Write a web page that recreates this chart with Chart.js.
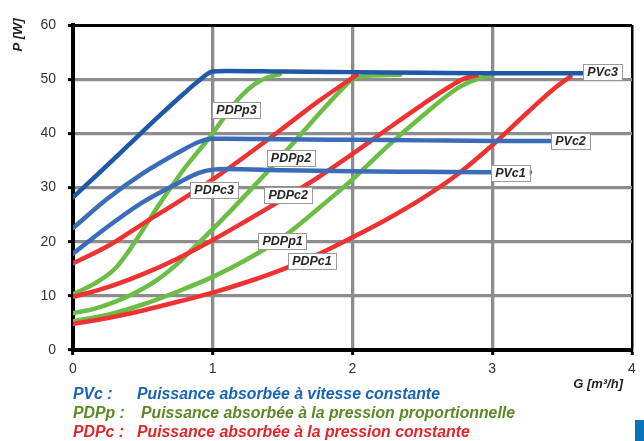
<!DOCTYPE html>
<html>
<head>
<meta charset="utf-8">
<script src="https://cdn.jsdelivr.net/npm/chart.js@4.4.1/dist/chart.umd.min.js"></script>
<style>
  body { margin: 0; background: #fff; }
  #wrap { position: relative; width: 644px; height: 441px; overflow: hidden; }
  #chart { position: absolute; left: 0; top: 0; }
  .legend { position: absolute; left: 73px; top: 384px; font: italic bold 15.8px "Liberation Sans", Arial, sans-serif; line-height: 19px; white-space: nowrap; }
  .legend div { position: relative; height: 19px; }
  .legend span.desc { position: absolute; left: 64px; }
  .corner { position: absolute; left: 635px; top: 420px; width: 9px; height: 21px; background: #0b73b7; }
</style>
</head>
<body>
<div id="wrap">
  <canvas id="chart" width="644" height="441"></canvas>
  <div class="legend">
    <div style="color:#1763b6">PVc :<span class="desc">Puissance absorbée à vitesse constante</span></div>
    <div style="color:#5b8a24">PDPp :<span class="desc" style="left:68px">Puissance absorbée à la pression proportionnelle</span></div>
    <div style="color:#e1252b">PDPc :<span class="desc">Puissance absorbée à la pression constante</span></div>
  </div>
  <div class="corner"></div>
</div>
<script>
// axes
const xTicks = [0, 1, 2, 3, 4];
const yTicks = [0, 10, 20, 30, 40, 50, 60];

// débit G [m3/h] et puissance P [W]
const pvc3G = [0, 0.2, 0.4, 0.6, 0.8, 0.9, 1.0, 1.1, 1.5, 2.0, 2.5, 3.0, 3.67];
const pvc3P = [28.2, 33.0, 37.9, 42.8, 47.5, 49.7, 51.4, 51.5, 51.4, 51.3, 51.2, 51.1, 51.1];
const pvc2G = [0, 0.25, 0.5, 0.75, 0.9, 1.0, 1.1, 1.5, 2.0, 2.5, 3.0, 3.45];
const pvc2P = [22.5, 28.0, 32.6, 36.4, 38.4, 39.0, 39.0, 38.9, 38.8, 38.7, 38.6, 38.6];
const pvc1G = [0, 0.25, 0.5, 0.75, 0.9, 1.0, 1.1, 1.5, 2.0, 2.5, 3.0, 3.27];
const pvc1P = [17.8, 22.8, 27.3, 30.8, 32.7, 33.3, 33.4, 33.2, 33.0, 32.9, 32.8, 32.8];

const pdpp3G = [0, 0.15, 0.3, 0.4, 0.5, 0.6, 0.7, 0.8, 0.9, 1.0, 1.1, 1.2, 1.3, 1.4, 1.48];
const pdpp3P = [10.3, 12.2, 15.0, 18.3, 22.2, 26.2, 30.0, 33.6, 36.8, 40.0, 43.6, 46.8, 49.1, 50.4, 50.9];
const pdpp2G = [0, 0.15, 0.3, 0.45, 0.6, 0.75, 0.9, 1.0, 1.25, 1.5, 1.75, 1.93, 2.0, 2.1, 2.34];
const pdpp2P = [6.8, 7.6, 8.9, 10.6, 12.9, 16.0, 19.8, 22.3, 29.0, 36.0, 43.3, 48.3, 50.0, 50.6, 50.8];
const pdpp1G = [0, 0.25, 0.5, 0.75, 1.0, 1.25, 1.5, 1.75, 2.0, 2.25, 2.5, 2.75, 2.9, 2.98];
const pdpp1P = [5.3, 6.5, 8.4, 10.8, 13.5, 16.8, 20.8, 26.0, 31.5, 37.6, 43.2, 48.3, 50.1, 50.6];

const pdpc3G = [0, 0.25, 0.5, 0.75, 1.0, 1.25, 1.5, 1.75, 2.03];
const pdpc3P = [16.0, 19.2, 23.3, 27.3, 31.5, 36.1, 40.9, 45.8, 50.8];
const pdpc2G = [0, 0.25, 0.5, 0.75, 1.0, 1.25, 1.5, 1.75, 2.0, 2.25, 2.5, 2.7, 2.8, 2.89];
const pdpc2P = [9.8, 11.6, 14.0, 16.9, 20.3, 24.0, 27.8, 31.8, 36.2, 40.8, 45.3, 48.7, 50.1, 50.7];
const pdpc1G = [0, 0.25, 0.5, 0.75, 1.0, 1.25, 1.5, 1.75, 2.0, 2.25, 2.5, 2.75, 3.0, 3.25, 3.45, 3.56];
const pdpc1P = [4.8, 5.9, 7.3, 8.9, 10.6, 12.6, 14.9, 17.6, 20.8, 24.2, 28.0, 32.4, 37.8, 43.8, 48.4, 50.5];

// étiquettes des courbes (point d'ancrage en G / P)
const curveTags = [
  { text: 'PDPp3', g: 1.17, p: 44.3 },
  { text: 'PDPp2', g: 1.56, p: 35.4 },
  { text: 'PDPc3', g: 1.01, p: 29.6 },
  { text: 'PDPc2', g: 1.54, p: 28.6 },
  { text: 'PDPp1', g: 1.50, p: 20.1 },
  { text: 'PDPc1', g: 1.71, p: 16.4 },
  { text: 'PVc3', g: 3.79, p: 51.3 },
  { text: 'PVc2', g: 3.56, p: 38.6 },
  { text: 'PVc1', g: 3.13, p: 32.7 },
];

const toPoints = (gs, ps) => gs.map((g, i) => ({ x: g, y: ps[i] }));

function serie(label, gs, ps, color) {
  return {
    label,
    data: toPoints(gs, ps),
    borderColor: color,
    borderWidth: 4.5,
    pointRadius: 0,
    fill: false,
    cubicInterpolationMode: 'monotone',
    borderCapStyle: 'round',
  };
}

const GREEN = '#6cbd45';
const RED = '#ee3232';

const tagPlugin = {
  id: 'tags',
  afterDatasetsDraw(chart) {
    const { ctx, scales: { x, y } } = chart;
    ctx.save();
    ctx.font = 'italic bold 12.5px "Liberation Sans", Arial, sans-serif';
    ctx.textAlign = 'center';
    ctx.textBaseline = 'middle';
    curveTags.forEach(t => {
      const cx = x.getPixelForValue(t.g);
      const cy = y.getPixelForValue(t.p);
      const w = ctx.measureText(t.text).width + 8;
      const h = 16;
      ctx.fillStyle = '#fff';
      ctx.fillRect(cx - w / 2, cy - h / 2, w, h);
      ctx.strokeStyle = '#9a9a9a';
      ctx.lineWidth = 1;
      ctx.strokeRect(Math.round(cx - w / 2) + 0.5, Math.round(cy - h / 2) + 0.5, Math.round(w), h);
      ctx.fillStyle = '#262626';
      ctx.fillText(t.text, cx, cy + 0.5);
    });
    ctx.restore();
  },
  afterDraw(chart) {
    const { ctx } = chart;
    ctx.save();
    ctx.fillStyle = '#222';
    ctx.font = 'italic bold 13px "Liberation Sans", Arial, sans-serif';
    ctx.textBaseline = 'middle';
    ctx.textAlign = 'right';
    ctx.fillText('G [m³/h]', 623, 384);
    ctx.translate(18, 35);
    ctx.rotate(-Math.PI / 2);
    ctx.textAlign = 'center';
    ctx.fillText('P [W]', 0, 0);
    ctx.restore();
  }
};

new Chart(document.getElementById('chart'), {
  type: 'line',
  data: {
    datasets: [
      serie('PVc3', pvc3G, pvc3P, '#1f58a6'),
      serie('PVc2', pvc2G, pvc2P, '#3a6cb8'),
      serie('PVc1', pvc1G, pvc1P, '#3a6cb8'),
      serie('PDPc3', pdpc3G, pdpc3P, RED),
      serie('PDPc2', pdpc2G, pdpc2P, RED),
      serie('PDPc1', pdpc1G, pdpc1P, RED),
      serie('PDPp3', pdpp3G, pdpp3P, GREEN),
      serie('PDPp2', pdpp2G, pdpp2P, GREEN),
      serie('PDPp1', pdpp1G, pdpp1P, GREEN),
    ]
  },
  options: {
    responsive: false,
    animation: false,
    layout: { padding: { left: 0, top: 25, right: 12, bottom: 0 } },
    plugins: {
      legend: { display: false },
      tooltip: { enabled: false },
    },
    scales: {
      x: {
        type: 'linear',
        min: xTicks[0],
        max: xTicks[xTicks.length - 1],
        afterBuildTicks: s => { s.ticks = xTicks.map(v => ({ value: v })); },
        afterFit: s => { s.height = 91; },
        ticks: { color: '#333', font: { family: '"Liberation Sans", Arial', size: 14 }, padding: 6, maxRotation: 0 },
        grid: {
          color: c => (c.tick && c.tick.value === 4) ? '#000' : '#8d8d8d',
          lineWidth: c => (c.tick && c.tick.value === 4) ? 2.5 : 3.3,
          tickColor: '#000', tickLength: 5, tickWidth: 3,
        },
        border: { color: '#000', width: 4 },
      },
      y: {
        min: yTicks[0],
        max: yTicks[yTicks.length - 1],
        afterBuildTicks: s => { s.ticks = yTicks.map(v => ({ value: v })); },
        afterFit: s => { s.width = 73; },
        ticks: { color: '#333', font: { family: '"Liberation Sans", Arial', size: 14 }, padding: 12 },
        grid: {
          color: c => (c.tick && c.tick.value === 60) ? '#000' : '#8d8d8d',
          lineWidth: c => (c.tick && c.tick.value === 60) ? 3 : 3.3,
          tickColor: '#000', tickLength: 5, tickWidth: 3,
        },
        border: { color: '#000', width: 4 },
      },
    },
  },
  plugins: [tagPlugin],
});
</script>
</body>
</html>
